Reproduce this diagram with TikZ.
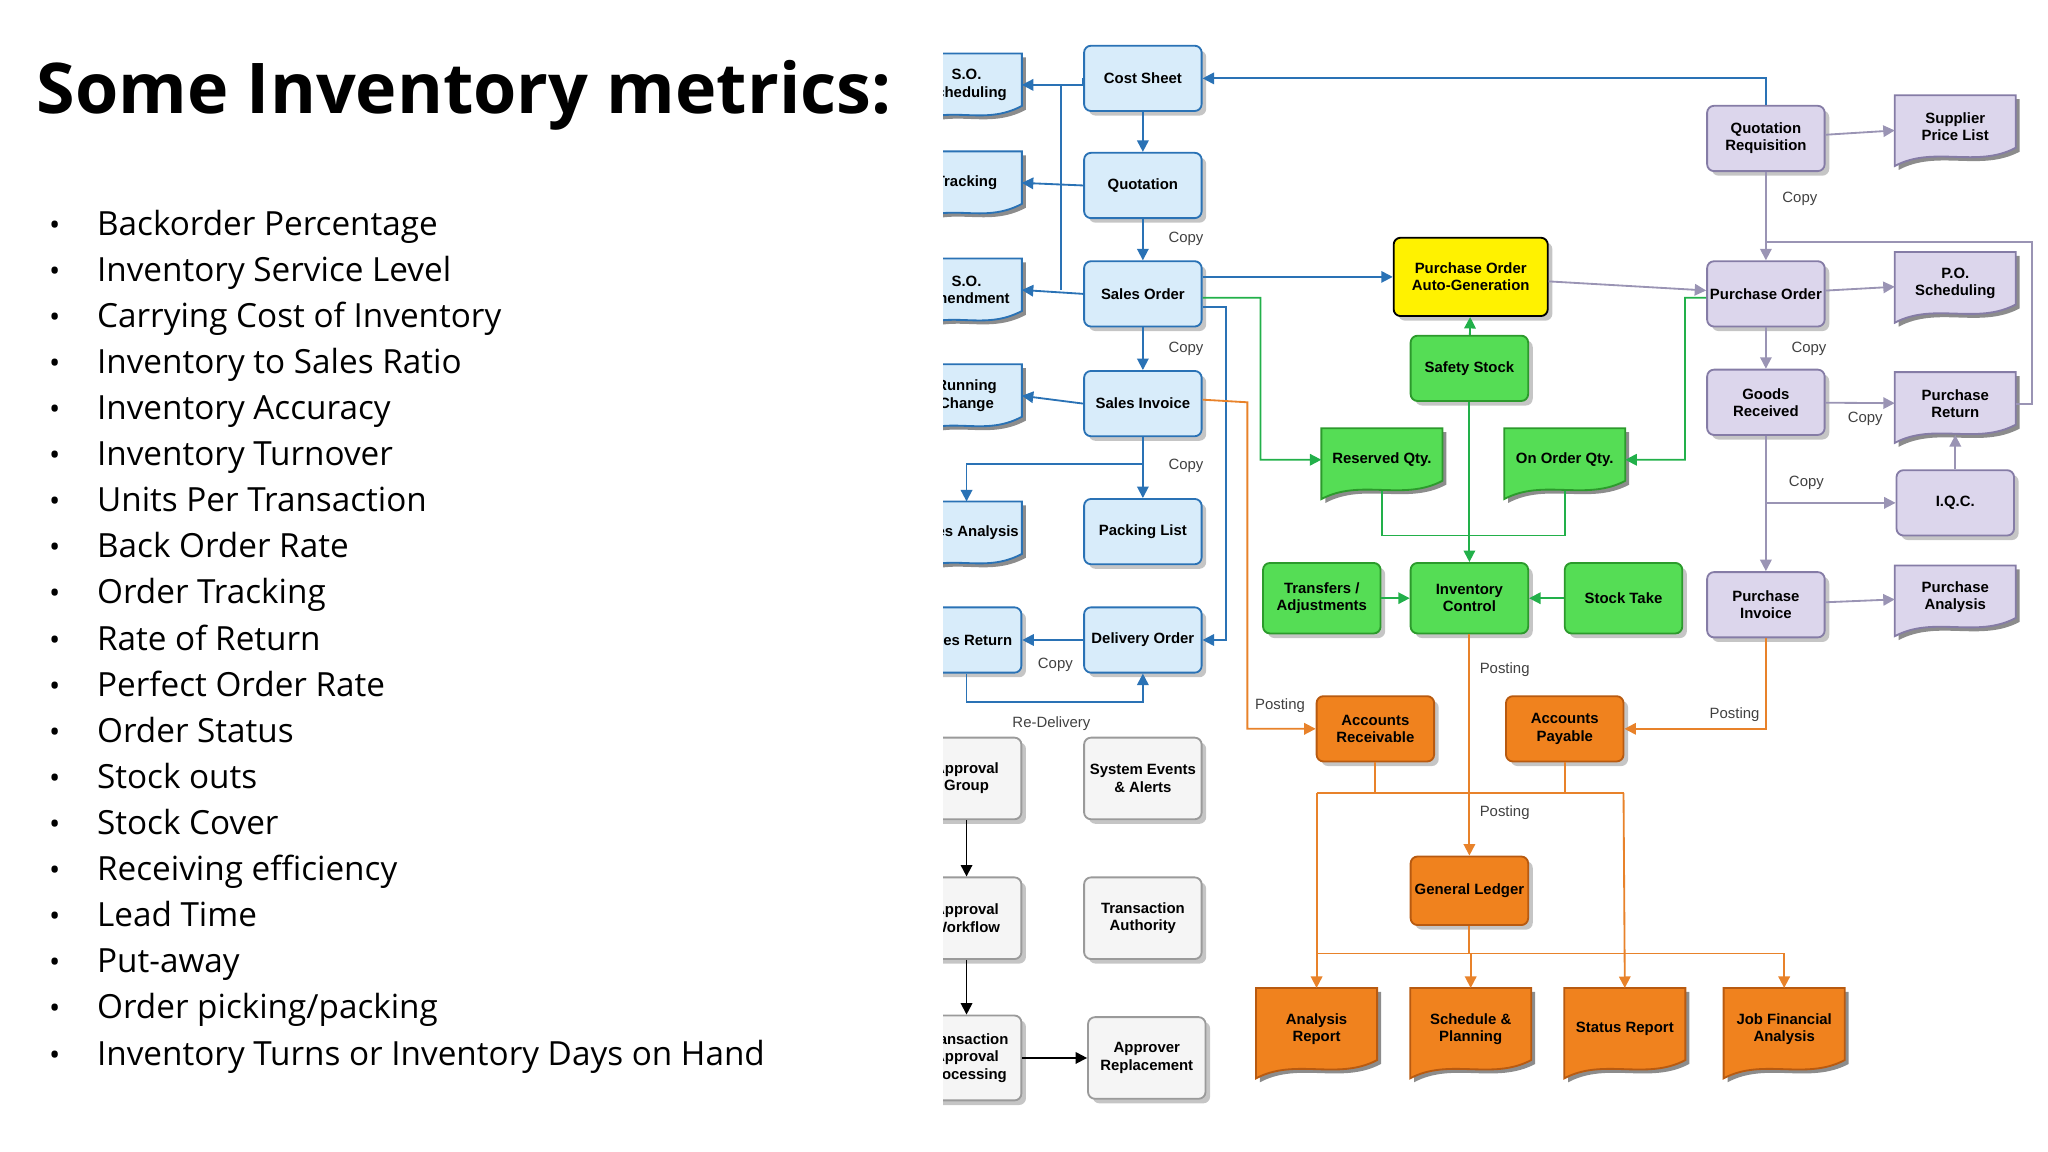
\documentclass[tikz,border=0pt]{standalone}
\usepackage{fontspec}
\setmainfont{Open Sans}
\newfontfamily\dfont{Liberation Sans}
\usetikzlibrary{shadows,arrows.meta,calc}
\pgfdeclarelayer{bg}\pgfsetlayers{bg,main}
\definecolor{bF}{HTML}{D8ECFA}\definecolor{bD}{HTML}{2A72B5}
\definecolor{lF}{HTML}{DCD6EC}\definecolor{lD}{HTML}{857CA6}
\definecolor{gF}{HTML}{55DD55}\definecolor{gD}{HTML}{2C9A2C}
\definecolor{oF}{HTML}{F0821E}\definecolor{oD}{HTML}{B85A10}
\definecolor{wF}{HTML}{F5F5F5}\definecolor{wD}{HTML}{9A9A9A}
\definecolor{aB}{HTML}{2A72B5}\definecolor{aG}{HTML}{22B04A}
\definecolor{aO}{HTML}{E8822A}\definecolor{aL}{HTML}{9A94B4}
\tikzset{
 x=0.02cm,y=-0.02cm,
 box/.style={rounded corners=3pt,draw,line width=0.8pt,minimum width=1.8cm,minimum height=1cm,align=center,
   font=\dfont\bfseries\fontsize{6.5}{7.5}\selectfont,inner sep=1pt,drop shadow={shadow xshift=2pt,shadow yshift=-2pt,fill=black!45}},
 doc/.style={minimum width=1.84cm,minimum height=0.95cm,align=center,font=\dfont\bfseries\fontsize{6.5}{7.5}\selectfont,inner sep=1pt},
 B/.style={box,fill=bF,draw=bD}, L/.style={box,fill=lF,draw=lD}, G/.style={box,fill=gF,draw=gD},
 O/.style={box,fill=oF,draw=oD}, W/.style={box,fill=wF,draw=wD}, Y/.style={box,fill=yellow,draw=black},
 ar/.style={-{Triangle[length=5pt,width=5pt]},line width=0.8pt},
 ba/.style={ar,draw=aB}, ga/.style={ar,draw=aG}, oa/.style={ar,draw=aO}, la/.style={ar,draw=aL},
 bl/.style={line width=0.8pt,draw=aB}, gl/.style={line width=0.8pt,draw=aG}, ol/.style={line width=0.8pt,draw=aO}, ll/.style={line width=0.8pt,draw=aL},
 lab/.style={font=\dfont\fontsize{6.5}{7.5}\selectfont,text=black!75},
}
\def\dpath#1#2{($(#1.north west)+(#2)$) -- ($(#1.north east)+(#2)$) -- ($(#1.south east)+(#2)+(0,-8)$) .. controls +(-30,16) and +(30,-16) .. ($(#1.south west)+(#2)+(0,6)$) -- cycle}
\newcommand\mkdoc[3]{\begin{pgfonlayer}{bg}\begin{scope}\clip (722,0) rectangle (1568,882);\fill[black!45] \dpath{#1}{3,3};\draw[line width=0.8pt,fill=#2,draw=#3] \dpath{#1}{0,0};\end{scope}\end{pgfonlayer}}
\begin{document}
\begin{tikzpicture}
\useasboundingbox (0,0) rectangle (1568,882);
\node[anchor=west,font=\bfseries\fontsize{30.5}{36}\selectfont] (title) at (22,73) {Some Inventory metrics:};
\foreach \t [count=\i] in {Backorder Percentage,Inventory Service Level,Carrying Cost of Inventory,Inventory to Sales Ratio,Inventory Accuracy,Inventory Turnover,Units Per Transaction,Back Order Rate,Order Tracking,Rate of Return,Perfect Order Rate,Order Status,Stock outs,Stock Cover,Receiving efficiency,Lead Time,Put-away,Order picking/packing,Inventory Turns or Inventory Days on Hand}{
 \node[anchor=base,font=\fontsize{13}{15}\selectfont,inner sep=0pt] (d\i) at (42,{180+(\i-1)*35.3}) {•};
 \node[anchor=base west,font=\fontsize{14.5}{17}\selectfont,inner sep=0pt] (b\i) at (74,{180+(\i-1)*35.3}) {\t};
}
\begin{scope}
\clip (722,0) rectangle (1568,882);
% left column
\node[doc,minimum width=1.68cm] (sosch) at (740,65) {S.O.\\Scheduling}; \mkdoc{sosch}{bF}{bD}
\node[doc,minimum width=1.68cm] (track) at (740,140) {Tracking}; \mkdoc{track}{bF}{bD}
\node[doc,minimum width=1.68cm] (amend) at (740,222) {S.O.\\Amendment}; \mkdoc{amend}{bF}{bD}
\node[doc,minimum width=1.68cm] (run) at (740,303) {Running\\Change}; \mkdoc{run}{bF}{bD}
\node[doc,minimum width=1.68cm] (sana) at (740,408) {Sales Analysis}; \mkdoc{sana}{bF}{bD}
\node[B,minimum width=1.68cm] (sret) at (740,490) {Sales Return};
\node[W,minimum width=1.68cm,minimum height=1.25cm] (apg) at (740,596) {Approval\\Group};
\node[W,minimum width=1.68cm,minimum height=1.25cm] (apw) at (740,703) {Approval\\Workflow};
\node[W,minimum width=1.68cm,minimum height=1.3cm] (tap) at (740,810) {Transaction\\Approval\\Processing};
% column 2
\node[B] (cs) at (875,60) {Cost Sheet};
\node[B] (qt) at (875,142) {Quotation};
\node[B] (sord) at (875,225) {Sales Order};
\node[B] (sinv) at (875,309) {Sales Invoice};
\node[B] (pack) at (875,407) {Packing List};
\node[B] (dord) at (875,490) {Delivery Order};
\node[W,minimum height=1.25cm] (sev) at (875,596) {System Events\\\& Alerts};
\node[W,minimum height=1.25cm] (tau) at (875,703) {Transaction\\Authority};
\node[W,minimum height=1.25cm] (arp) at (878,810) {Approver\\Replacement};
% centre
\node[Y,minimum width=2.36cm,minimum height=1.2cm] (poag) at (1126,212) {Purchase Order\\Auto-Generation};
\node[G] (ss) at (1125,282) {Safety Stock};
\node[doc] (rq) at (1058,352) {Reserved Qty.}; \mkdoc{rq}{gF}{gD}
\node[doc] (oo) at (1198,352) {On Order Qty.}; \mkdoc{oo}{gF}{gD}
\node[G,minimum height=1.08cm] (tr) at (1012,458) {Transfers /\\Adjustments};
\node[G,minimum height=1.08cm] (ic) at (1125,458) {Inventory\\Control};
\node[G,minimum height=1.08cm] (st) at (1243,458) {Stock Take};
\node[O] (arc) at (1053,558) {Accounts\\Receivable};
\node[O] (apy) at (1198,558) {Accounts\\Payable};
\node[O,minimum height=1.05cm] (gl) at (1125,682) {General Ledger};
\node[doc,minimum height=1.25cm] (arep) at (1008,788) {Analysis\\Report}; \mkdoc{arep}{oF}{oD}
\node[doc,minimum height=1.25cm] (sp) at (1126,788) {Schedule \&\\Planning}; \mkdoc{sp}{oF}{oD}
\node[doc,minimum height=1.25cm] (srep) at (1244,788) {Status Report}; \mkdoc{srep}{oF}{oD}
\node[doc,minimum height=1.25cm] (jfa) at (1366,788) {Job Financial\\Analysis}; \mkdoc{jfa}{oF}{oD}
% right
\node[L] (qreq) at (1352,106) {Quotation\\Requisition};
\node[doc] (spl) at (1497,97) {Supplier\\Price List}; \mkdoc{spl}{lF}{lD}
\node[L] (po) at (1352,225) {Purchase Order};
\node[doc] (pos) at (1497,217) {P.O.\\Scheduling}; \mkdoc{pos}{lF}{lD}
\node[L] (gr) at (1352,308) {Goods\\Received};
\node[doc] (pret) at (1497,309) {Purchase\\Return}; \mkdoc{pret}{lF}{lD}
\node[L] (iqc) at (1497,385) {I.Q.C.};
\node[L] (pinv) at (1352,463) {Purchase\\Invoice};
\node[doc] (pan) at (1497,457) {Purchase\\Analysis}; \mkdoc{pan}{lF}{lD}
% blue connectors
\draw[ba] (cs) -- (qt);
\draw[ba] (qt) -- (sord); \node[lab] (c1) at (908,183) {Copy};
\draw[ba] (sord) -- (sinv); \node[lab] (c2) at (908,267) {Copy};
\draw[ba] (sinv) -- (pack); \node[lab] (c3) at (908,357) {Copy};
\draw[ba] (cs.west) -- (sosch.east -| cs.west) -- (sosch.east);
\draw[ba] (qt.west) -- (track.east);
\draw[ba] (sord.west) -- (amend.east);
\draw[ba] (sinv.west) -- (run.east);
\coordinate (v1) at (812,65); \coordinate (v2) at (812,222);
\draw[bl] (v1) -- (v2);
\coordinate (j1) at (875,355);
\draw[ba] (j1) -| (sana.north);
\draw[ba] (dord.west) -- (sret.east); \node[lab] (c4) at (808,509) {Copy};
\draw[ba] (sret.south) -- ++(0,22) -| (dord.south); \node[lab] (rd) at (805,554) {Re-Delivery};
\draw[ba] ([yshift=-0.2cm]sord.east) -- ++(18,0) |- (dord.east);
\draw[ba] (sord.east |- poag.west) -- (poag.west);
\draw[ba] (qreq.north) |- (cs.east);
% green
\draw[ga] ([yshift=-0.06cm]sord.east) -- (965,228) |- (rq.west);
\draw[ga] ([yshift=-0.06cm]po.west) -- (1290,228) |- (oo.east);
\draw[ga] (ss) -- (poag);
\draw[ga] (ss) -- (ic);
\draw[gl] (rq.south) |- (1125,410) -| (oo.south);
\draw[ga] (tr) -- (ic);
\draw[ga] (st) -- (ic);
% lavender
\draw[la] (poag) -- (po);
\draw[la] (qreq) -- (spl);
\draw[la] (qreq) -- (po); \node[lab] (c5) at (1378,152) {Copy};
\coordinate (r1) at (1352,185); \coordinate (r2) at (1556,185);
\draw[ll] (r1) -- (r2) |- (pret.east);
\draw[la] (po) -- (pos);
\draw[la] (po) -- (gr); \node[lab] (c6) at (1385,267) {Copy};
\draw[la] (gr) -- (pret); \node[lab] (c7) at (1428,321) {Copy};
\draw[la] (gr) -- (pinv);
\coordinate (j2) at (1352,385);
\draw[la] (j2) -- (iqc.west); \node[lab] (c8) at (1383,370) {Copy};
\draw[la] (iqc) -- (pret);
\draw[la] (pinv) -- (pan);
% orange
\draw[oa] ([yshift=0.06cm]sinv.east) -- (955,308) |- (arc.west); \node[lab] (p1) at (980,540) {Posting};
\draw[oa] (pinv.south) |- (apy.east); \node[lab] (p2) at (1328,547) {Posting};
\draw[oa] (ic) -- (gl); \node[lab] (p3) at (1152,513) {Posting}; \node[lab] (p4) at (1152,622) {Posting};
\coordinate (h1) at (1008,607); \coordinate (h2) at (1243,607);
\draw[ol] (arc.south) -- (arc.south |- h1); \draw[ol] (apy.south) -- (apy.south |- h1);
\draw[ol] (h1) -- (h2);
\draw[oa] (h1) -- (arep.north); \draw[oa] (h2) -- (srep.north);
\coordinate (h3) at (1008,730); \coordinate (h4) at (1366,730);
\draw[ol] (gl.south) -- (gl.south |- h3); \draw[ol] (h3) -- (h4);
\draw[oa] (sp.north |- h3) -- (sp.north);
\draw[oa] (h4) -- (jfa.north);
% approval
\draw[ar] (apg) -- (apw);
\draw[ar] (apw) -- (tap);
\draw[ar] (tap) -- (arp);
\end{scope}
\end{tikzpicture}
\end{document}
